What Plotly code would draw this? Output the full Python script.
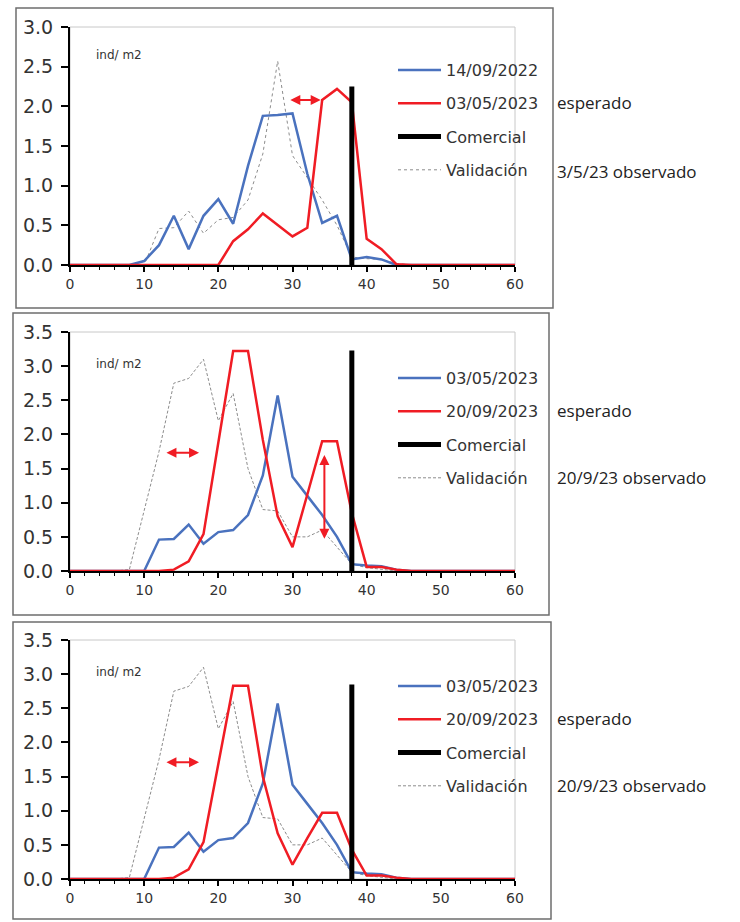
import plotly.graph_objects as go

W, H = 740, 922

# ---------------- data ----------------
talla = list(range(0, 62, 2))  # 0,2,...,60

# Panel 1
p1_2022 = [0, 0, 0, 0, 0, 0.05, 0.25, 0.62, 0.2, 0.62, 0.83, 0.52, 1.25, 1.88, 1.89, 1.91,
           1.15, 0.53, 0.62, 0.07, 0.1, 0.07, 0, 0, 0, 0, 0, 0, 0, 0, 0]
p1_esperado = [0, 0, 0, 0, 0, 0, 0, 0, 0, 0, 0, 0.3, 0.45, 0.65, 0.5, 0.36,
               0.47, 2.08, 2.22, 2.05, 0.33, 0.2, 0.01, 0, 0, 0, 0, 0, 0, 0, 0]
# observado 03/05/2023 (validation in panel 1, blue series in panels 2 and 3)
obs_0305 = [0, 0, 0, 0, 0, 0, 0.46, 0.47, 0.68, 0.4, 0.57, 0.6, 0.82, 1.4, 2.57, 1.38,
            1.1, 0.82, 0.5, 0.1, 0.08, 0.07, 0.02, 0, 0, 0, 0, 0, 0, 0, 0]
# observado 20/09/2023 (validation in panels 2 and 3)
obs_2009 = [0, 0, 0, 0, 0.02, 0.87, 1.75, 2.75, 2.82, 3.1, 2.2, 2.6, 1.5, 0.9, 0.88, 0.5,
            0.5, 0.6, 0.35, 0.1, 0.05, 0.02, 0, 0, 0, 0, 0, 0, 0, 0, 0]
p2_esperado = [0, 0, 0, 0, 0, 0, 0, 0.02, 0.14, 0.54, 1.88, 3.22, 3.22, 1.92, 0.8, 0.35,
               1.12, 1.9, 1.9, 0.85, 0.06, 0.06, 0.02, 0, 0, 0, 0, 0, 0, 0, 0]
p3_esperado = [0, 0, 0, 0, 0, 0, 0, 0.02, 0.14, 0.54, 1.68, 2.83, 2.83, 1.5, 0.67, 0.21,
               0.6, 0.97, 0.97, 0.43, 0.05, 0.05, 0.02, 0, 0, 0, 0, 0, 0, 0, 0]

comercial_x = [38, 38]
comercial_top = [2.25, 3.23, 2.85]

labels_blue = ["14/09/2022", "03/05/2023", "03/05/2023"]
labels_red = ["03/05/2023", "20/09/2023", "20/09/2023"]
notes_obs = ["3/5/23 observado", "20/9/23 observado", "20/9/23 observado"]

blue_series = [p1_2022, obs_0305, obs_0305]
red_series = [p1_esperado, p2_esperado, p3_esperado]
val_series = [obs_0305, obs_2009, obs_2009]
yranges = [3.0, 3.5, 3.5]

# ---------------- layout geometry (pixels) ----------------
px = lambda v: v / W
py = lambda v: 1 - v / H

plot_x = (70, 515)
plot_y = [(27, 265), (332, 571), (640, 879)]
frames = [(16, 8, 553, 308), (13, 313, 549, 615), (13, 622, 551, 919)]
legend_top = [53, 361, 669]
ind_y = [55, 364, 672]
esp_y = [102, 410, 718]
obs_y = [171, 477, 785]

BLUE = "#4a72be"
RED = "#f01c24"
GRAY = "#8c8c8c"
TXT = "#333333"

fig = go.Figure()

for i in range(3):
    n = "" if i == 0 else str(i + 1)
    xa, ya = "x" + n, "y" + n
    lg = "legend" + n
    dash_val = "dot" if i == 0 else "3px,2px"
    # validation (drawn first, listed last)
    fig.add_trace(go.Scatter(x=talla, y=val_series[i], mode="lines", name="Validación",
                             line=dict(color=GRAY, width=1, dash=dash_val),
                             xaxis=xa, yaxis=ya, legend=lg, legendgroup=f"v{i}",
                             legendrank=4, hoverinfo="skip"))
    fig.add_trace(go.Scatter(x=talla, y=blue_series[i], mode="lines", name=labels_blue[i],
                             line=dict(color=BLUE, width=2.5),
                             xaxis=xa, yaxis=ya, legend=lg, legendgroup=f"b{i}",
                             legendrank=1))
    fig.add_trace(go.Scatter(x=talla, y=red_series[i], mode="lines", name=labels_red[i],
                             line=dict(color=RED, width=2.5),
                             xaxis=xa, yaxis=ya, legend=lg, legendgroup=f"r{i}",
                             legendrank=2))
    fig.add_trace(go.Scatter(x=comercial_x, y=[0, comercial_top[i]], mode="lines",
                             name="Comercial", line=dict(color="black", width=5),
                             xaxis=xa, yaxis=ya, legend=lg, legendgroup=f"c{i}",
                             legendrank=3))

    y0, y1 = plot_y[i]
    fig.update_layout(**{
        "xaxis" + n: dict(domain=[px(plot_x[0]), px(plot_x[1])], range=[0, 60],
                          dtick=10, tick0=0, anchor=ya, showgrid=False, zeroline=False,
                          showline=True, linecolor="black", linewidth=1.5,
                          ticks="outside", ticklen=5, tickcolor="black", tickwidth=1.5,
                          minor=dict(dtick=2, ticks="outside", ticklen=3,
                                     tickcolor="black", tickwidth=1),
                          automargin=False,
                          tickfont=dict(family="DejaVu Sans", size=14, color=TXT)),
        "yaxis" + n: dict(domain=[py(y1), py(y0)], range=[0, yranges[i]], dtick=0.5,
                          tick0=0, tickformat=".1f", anchor=xa, showgrid=False,
                          zeroline=False, showline=True, linecolor="black", linewidth=2,
                          ticks="outside", ticklen=7, tickcolor="black", tickwidth=1.5,
                          ticklabelstandoff=4, automargin=False,
                          tickfont=dict(family="DejaVu Sans", size=19, color=TXT)),
        lg: dict(x=px(393), y=py(legend_top[i]), xanchor="left", yanchor="top",
                 bgcolor="rgba(0,0,0,0)", traceorder="grouped", tracegroupgap=9.5,
                 font=dict(family="DejaVu Sans", size=16, color=TXT), itemwidth=43),
    })

    # plot-area light border
    fig.add_shape(type="rect", xref=xa + " domain", yref=ya + " domain",
                  x0=0, x1=1, y0=0, y1=1, line=dict(color="#c8c8c8", width=1),
                  layer="below")
    # outer frame
    fx0, fy0, fx1, fy1 = frames[i]
    fig.add_shape(type="rect", xref="paper", yref="paper",
                  x0=px(fx0), x1=px(fx1), y0=py(fy1), y1=py(fy0),
                  line=dict(color="#6e6e6e", width=1.5))

    fig.add_annotation(text="ind/ m2", xref="paper", yref="paper", x=px(94),
                       y=py(ind_y[i]), xanchor="left", yanchor="middle", showarrow=False,
                       font=dict(family="DejaVu Sans", size=12, color=TXT))
    fig.add_annotation(text="esperado", xref="paper", yref="paper", x=px(555),
                       y=py(esp_y[i]), xanchor="left", yanchor="middle", showarrow=False,
                       font=dict(family="Open Sans", size=17, color="#222222"))
    fig.add_annotation(text=notes_obs[i], xref="paper", yref="paper", x=px(555),
                       y=py(obs_y[i]), xanchor="left", yanchor="middle", showarrow=False,
                       font=dict(family="Open Sans", size=17, color="#222222"))

# red double-headed arrows
arrows = [
    ("x", "y", 29.5, 2.08, 33.8, 2.08),
    ("x2", "y2", 12.8, 1.73, 17.4, 1.73),
    ("x2", "y2", 34.3, 0.45, 34.3, 1.7),
    ("x3", "y3", 12.8, 1.71, 17.4, 1.71),
]
for xa, ya, ax0, ay0, ax1, ay1 in arrows:
    fig.add_annotation(xref=xa, yref=ya, axref=xa, ayref=ya, x=ax1, y=ay1, ax=ax0, ay=ay0,
                       text="", showarrow=True, arrowside="end+start", arrowhead=2,
                       arrowsize=1, arrowwidth=2, arrowcolor=RED)

fig.update_layout(width=W, height=H,
                  margin=dict(l=0, r=0, t=0, b=0, pad=0, autoexpand=False),
                  paper_bgcolor="white", plot_bgcolor="white", showlegend=True)

fig.write_html("out.html", config={"displayModeBar": False},
               post_script="document.body.style.margin='0';document.body.style.overflow='hidden';")
